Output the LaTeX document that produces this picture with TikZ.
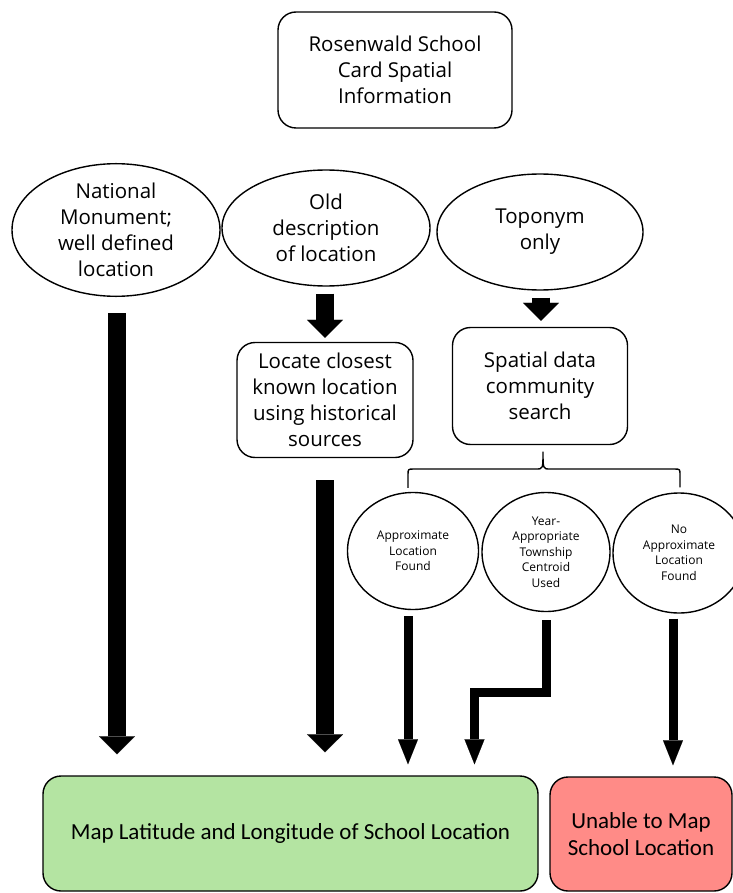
\documentclass[tikz,border=0pt]{standalone}
\usepackage{fontspec}
\setmainfont{Open Sans}
\newfontfamily\narrowfont{Carlito}
\usetikzlibrary{shapes.geometric,arrows.meta,calc}
\definecolor{boxgreen}{RGB}{180,228,162}
\definecolor{boxred}{RGB}{255,139,135}
\begin{document}
\begin{tikzpicture}[x=1pt,y=-1pt,
  box/.style={draw,line width=1.4pt,rounded corners=18pt,align=center,inner sep=0pt,font=\fontsize{20.5}{26}\selectfont},
  oval/.style={draw,ellipse,line width=1.4pt,align=center,inner sep=0pt,font=\fontsize{20.5}{26}\selectfont},
  smalloval/.style={draw,ellipse,line width=1.4pt,align=center,inner sep=0pt,font=\fontsize{12}{15.5}\selectfont},
  bigarrow/.style={line width=18pt,-{Triangle[width=36pt,length=18pt,line width=0.1pt]}},
  thinarrow/.style={line width=9pt,-{Triangle[width=20pt,length=25pt,line width=0.1pt]}},
]
\useasboundingbox (0,0) rectangle (732,893);

\node[box,minimum width=234pt,minimum height=116pt] (top) at (395,70) {Rosenwald School\\Card Spatial\\Information};

\node[oval,minimum width=208pt,minimum height=116pt] (nat) at (116,230) {National\\Monument;\\well defined\\location};
\node[oval,minimum width=208pt,minimum height=116pt] (old) at (326,228) {Old\\description\\of location};
\node[oval,minimum width=206pt,minimum height=116pt] (topo) at (540,232) {Toponym\\only};

\node[box,minimum width=176pt,minimum height=115pt] (loc) at (325,400) {Locate closest\\known location\\using historical\\sources};
\node[box,minimum width=175pt,minimum height=117pt] (spat) at (540,386) {Spatial data\\community\\search};

\node[smalloval,minimum width=131pt,minimum height=117pt] (c1) at (413,551) {Approximate\\Location\\Found};
\node[smalloval,minimum width=128pt,minimum height=119pt] (c2) at (546,552) {Year-\\Appropriate\\Township\\Centroid\\Used};
\node[smalloval,minimum width=132pt,minimum height=120pt] (c3) at (679,553) {No\\Approximate\\Location\\Found};

\node[box,fill=boxgreen,minimum width=495pt,minimum height=115pt,font=\narrowfont\fontsize{23}{27}\selectfont] (map) at (290.5,833.5) {Map Latitude and Longitude of School Location};
\node[box,fill=boxred,minimum width=182pt,minimum height=114pt,font=\narrowfont\fontsize{23}{27}\selectfont] (unable) at (641,834) {Unable to Map\\School Location};

% brace
\draw[line width=1.4pt,line join=round]
  ($(c1.north)+(-5,-4)$) -- (408,475) .. controls (408,469) .. (414,469) -- (536,469)
  .. controls (543,469) .. (543,452)
  .. controls (543,469) .. (550,469) -- (674,469) .. controls (680,469) .. (680,475)
  -- ($(c3.north)+(1,-5)$);

% big arrows
\draw[bigarrow] ($(nat.south)+(1,16)$) -- ($(nat.south |- map.north)+(1,-21)$);
\draw[bigarrow] ($(old.south)+(-1,7)$) -- ($(old.south |- loc.north)+(-1,-4)$);
\draw[bigarrow] ($(loc.south)+(0,22)$) -- ($(loc.south |- map.north)+(0,-23)$);
\draw[bigarrow] ($(topo.south)+(1,7)$) -- ($(topo.south |- spat.north)+(1,-6)$);

% thin arrows
\draw[thinarrow] ($(c1.south)+(-5,6)$) -- ($(c1.south |- map.north)+(-5,-11)$);
\draw[thinarrow] ($(c2.south)+(0,8)$) -- ++(0,72) -| ($(map.north)+(184,-11)$);
\draw[thinarrow] ($(c3.south)+(-6,5)$) -- ($(c3.south |- unable.north)+(-6,-11)$);
\end{tikzpicture}
\end{document}
